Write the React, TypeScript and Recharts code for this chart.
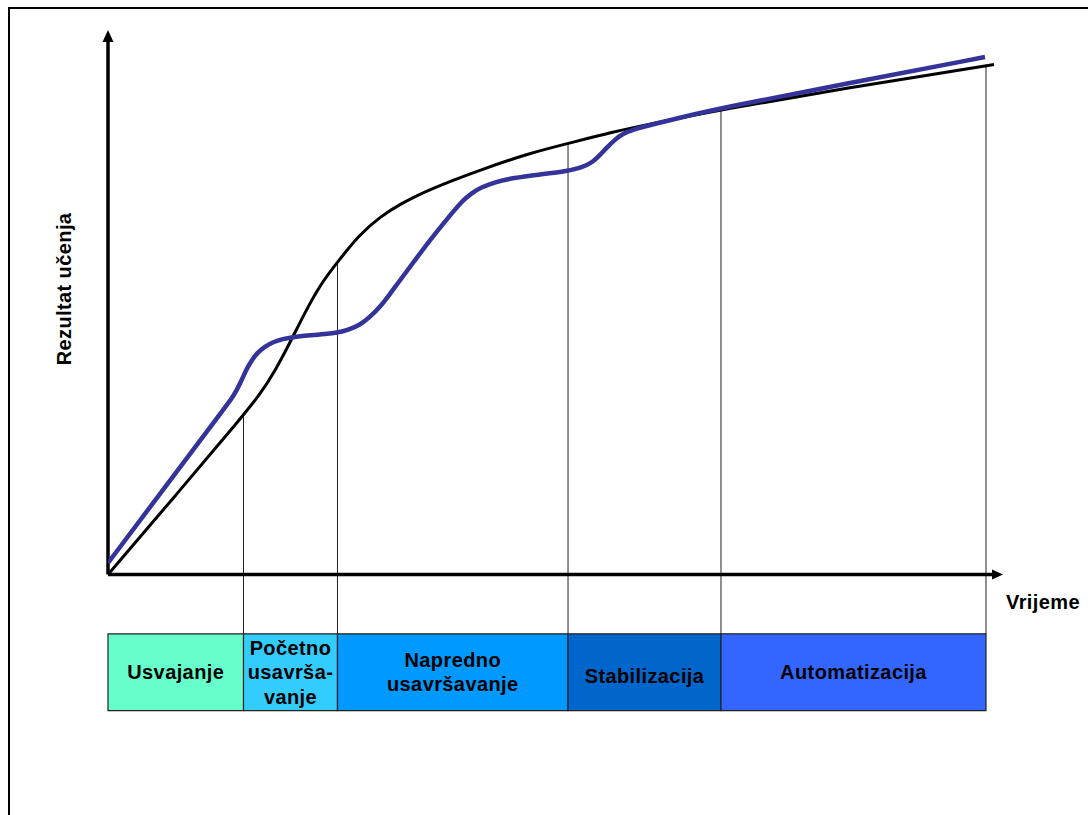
import React from 'react';
import { ComposedChart, Line, XAxis, YAxis, ReferenceArea, ReferenceLine, ReferenceDot } from 'recharts';

// ---- data (time on x: 0..100, learning result on y: 0..100; band row below the axis) ----
const idealTime = [0, 7.60, 15.14, 16.98, 18.66, 20.34, 22.01, 23.69, 25.64, 28.16, 30.39, 32.63, 35.98, 41.56, 47.15, 51.40, 56.42, 60.56, 68.49, 82.91, 98.10, 98.99];
const idealResult = [0, 14.60, 29.29, 33.06, 37.37, 42.61, 48.12, 53.17, 57.39, 62.53, 65.66, 68.04, 70.80, 74.29, 77.41, 79.16, 81.27, 82.74, 85.40, 89.44, 93.39, 93.66];

const actualTime = [0, 6.93, 13.07, 13.97, 14.75, 15.53, 16.09, 16.65, 17.54, 18.44, 19.55, 20.67, 23.13, 25.59, 26.82, 28.16, 29.27, 30.39, 31.51, 32.40, 34.19, 35.98, 37.88, 39.66, 40.67, 41.56, 43.24, 45.25, 48.27, 51.40, 52.96, 54.19, 54.97, 55.75, 56.65, 57.54, 58.88, 60.56, 64.47, 68.49, 82.91, 97.99];
const actualResult = [2.11, 17.26, 30.67, 32.60, 34.99, 37.93, 39.40, 40.68, 41.87, 42.70, 43.25, 43.62, 43.98, 44.35, 44.90, 45.82, 47.29, 49.13, 51.52, 53.54, 57.48, 61.43, 65.29, 68.78, 70.06, 70.98, 72.08, 72.82, 73.46, 74.11, 74.75, 75.76, 77.05, 78.42, 79.89, 80.99, 81.82, 82.55, 84.11, 85.67, 90.27, 95.04];

const phaseNames = [['Usvajanje'], ['Početno', 'usavrša-', 'vanje'], ['Napredno', 'usavršavanje'], ['Stabilizacija'], ['Automatizacija']];
const phaseStart = [0, 15.14, 25.64, 51.4, 68.49];
const phaseEnd = [15.14, 25.64, 51.4, 68.49, 98.1];
const phaseEndResult = [29.29, 57.39, 79.16, 85.40, 93.39];
const bandTop = -10.9;
const bandBottom = -25;
const timeDomain = [0, 100];
const resultDomain = [-25, 100];

const yTitle = 'Rezultat učenja';
const xTitle = 'Vrijeme';

// ---- styles ----
const phaseColors = ['#66FFCC', '#33CCFF', '#0099FF', '#0066CC', '#3366FF'];
const labelNudge = [0, 0, 0, 4, 0];
const FONT = '"Liberation Sans", Arial, Helvetica, sans-serif';
const FS = 20;
const LS = 0.4;

const idealData = idealTime.map((t, i) => ({ t, v: idealResult[i] }));
const actualData = actualTime.map((t, i) => ({ t, v: actualResult[i] }));

function BoxLabel(props: any) {
  const { viewBox, lines, nudge } = props;
  if (!viewBox) return null;
  const cx = viewBox.x + viewBox.width / 2;
  const cy = viewBox.y + viewBox.height / 2;
  const n = lines.length;
  return (
    <text textAnchor="middle" fontFamily={FONT} fontWeight="bold" fontSize={FS} letterSpacing={LS} fill="#000">
      {lines.map((l: string, i: number) => (
        <tspan key={i} x={cx} y={cy + 7 + nudge + (i - (n - 1) / 2) * 24.5}>{l}</tspan>
      ))}
    </text>
  );
}

const upArrow = (p: any) => (
  <polygon points={`${p.cx},${p.cy} ${p.cx - 5.5},${p.cy + 12} ${p.cx + 5.5},${p.cy + 12}`} fill="#000" />
);
const rightArrow = (p: any) => (
  <polygon points={`${p.cx},${p.cy} ${p.cx - 11},${p.cy - 5} ${p.cx - 11},${p.cy + 5}`} fill="#000" />
);

export default function App() {
  return (
    <div style={{ position: 'relative', width: 1088, height: 815, overflow: 'hidden', background: '#fff' }}>
      <style>{'body{margin:0;}'}</style>
      <div style={{ position: 'absolute', left: 8, top: 7, width: 1200, height: 1000, borderLeft: '2px solid #000', borderTop: '2px solid #000' }} />
      <div style={{ position: 'absolute', left: 0, top: 0 }}>
        <ComposedChart width={1088} height={815} margin={{ top: 30, right: 85, bottom: 104.4, left: 108 }}>
          <XAxis type="number" dataKey="t" domain={timeDomain} hide allowDataOverflow />
          <YAxis type="number" dataKey="v" domain={resultDomain} hide allowDataOverflow />

          {phaseStart.map((s, i) => (
            <ReferenceLine
              key={'b' + i}
              segment={[{ x: phaseEnd[i], y: phaseEndResult[i] }, { x: phaseEnd[i], y: bandTop }]}
              stroke="#222"
              strokeWidth={1}
              ifOverflow="visible"
            />
          ))}

          {phaseStart.map((s, i) => (
            <ReferenceArea
              key={'p' + i}
              x1={s}
              x2={phaseEnd[i]}
              y1={bandBottom}
              y2={bandTop}
              fill={phaseColors[i]}
              fillOpacity={1}
              stroke="#222"
              strokeWidth={1.2}
              ifOverflow="visible"
              label={(p: any) => <BoxLabel {...p} lines={phaseNames[i]} nudge={labelNudge[i]} />}
            />
          ))}

          <ReferenceLine segment={[{ x: 0, y: 0 }, { x: 0, y: 98 }]} stroke="#000" strokeWidth={3.5} ifOverflow="visible" />
          <ReferenceLine segment={[{ x: 0, y: 0 }, { x: 99, y: 0 }]} stroke="#000" strokeWidth={3.5} ifOverflow="visible" />
          <ReferenceDot x={0} y={100} r={1} shape={upArrow} ifOverflow="visible" />
          <ReferenceDot x={100} y={0} r={1} shape={rightArrow} ifOverflow="visible" />

          <Line data={idealData} dataKey="v" type="basis" stroke="#000" strokeWidth={3} dot={false} activeDot={false} isAnimationActive={false} />
          <Line data={actualData} dataKey="v" type="basis" stroke="#333399" strokeWidth={4.5} dot={false} activeDot={false} isAnimationActive={false} />

          <text x={71} y={289} transform="rotate(-90 71 289)" textAnchor="middle" fontFamily={FONT} fontWeight="bold" fontSize={FS} letterSpacing={LS} fill="#000">{yTitle}</text>
          <text x={1006} y={609} textAnchor="start" fontFamily={FONT} fontWeight="bold" fontSize={FS} letterSpacing={LS} fill="#000">{xTitle}</text>
        </ComposedChart>
      </div>
    </div>
  );
}
